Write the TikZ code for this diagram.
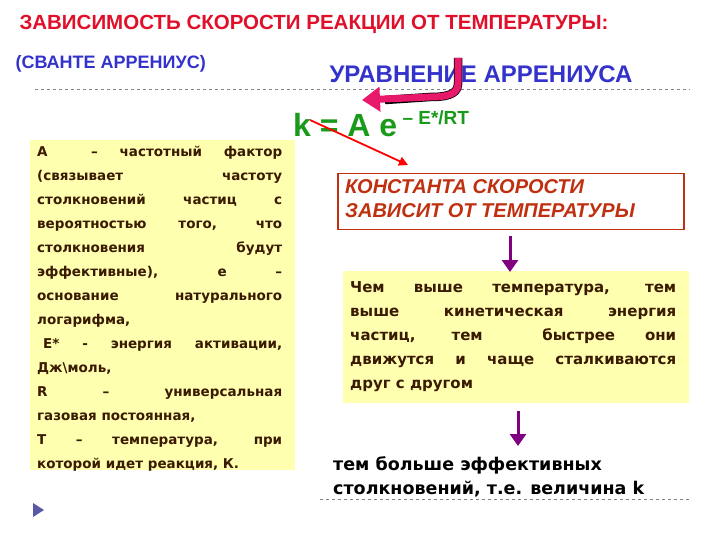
\documentclass[tikz,border=0pt]{standalone}
\usepackage{fontspec}
\setmainfont{DejaVu Sans}
\newfontfamily\arial{Liberation Sans}
\usetikzlibrary{arrows.meta}
\definecolor{ttlred}{HTML}{E0102A}
\definecolor{ttlblue}{HTML}{3333CC}
\definecolor{eqgreen}{HTML}{1A9A1A}
\definecolor{boxyel}{HTML}{FFFFB0}
\definecolor{txtbr}{HTML}{3A1A00}
\definecolor{konst}{HTML}{C03010}
\definecolor{pinkarr}{HTML}{E8186A}
\definecolor{purp}{HTML}{800080}
\tikzset{
  yelbox/.style={fill=boxyel, draw=none},
  bodytxt/.style={font=\bfseries\fontsize{13.5}{24}\selectfont, text=txtbr, align=justify, inner sep=0pt, anchor=north west},
  purparrow/.style={purp, line width=3pt, -{Triangle[length=12pt,width=16pt]}},
  sep/.style={gray, dashed, line width=0.6pt}
}
\begin{document}
\begin{tikzpicture}[x=1pt,y=-1pt]
\useasboundingbox (0,0) rectangle (720,540);
\node[anchor=west, font=\arial\bfseries\fontsize{20.5}{22}\selectfont, text=ttlred] (title) at (16,24) {ЗАВИСИМОСТЬ СКОРОСТИ РЕАКЦИИ ОТ ТЕМПЕРАТУРЫ:};
\node[anchor=west, font=\arial\bfseries\fontsize{18}{20}\selectfont, text=ttlblue] (sub) at (12,64) {(СВАНТЕ АРРЕНИУС)};
\node[anchor=west, font=\arial\bfseries\fontsize{24}{26}\selectfont, text=ttlblue] (ur) at (326,74) {УРАВНЕНИЕ АРРЕНИУСА};
\coordinate (d1a) at (35,89); \coordinate (d1b) at (690,89);
\draw[sep] (d1a) -- (d1b);
\node[anchor=west, font=\arial\bfseries\fontsize{32}{34}\selectfont, text=eqgreen, inner sep=0pt] (eq) at (293,124) {k = A e\raisebox{12pt}{\fontsize{19}{20}\selectfont\ – E*/RT}};
\coordinate (pa) at (458,58); \coordinate (pt) at (362,100);
\draw[black, line width=8.5pt] (pa) -- (458,84) to[out=-90,in=0] (430,97) -- (385,100);
\draw[pinkarr, line width=7pt, -{Triangle[length=18pt,width=24pt]}] (pa) -- (458,84) to[out=-90,in=0] (430,97) -- (pt);
% left box
\node[yelbox, minimum width=265, minimum height=330, anchor=north west] (lbox) at (30,140) {};
\node[bodytxt, text width=245] (ltxt) at (37,146) {А~~– частотный фактор\linebreak (связывает частоту\linebreak столкновений частиц с\linebreak вероятностью того, что\linebreak столкновения будут\linebreak эффективные), е –\linebreak основание натурального\linebreak логарифма,\\\hspace*{6pt}Е* - энергия активации,\linebreak Дж\textbackslash моль,\\R – универсальная\linebreak газовая постоянная,\\Т – температура, при\linebreak которой идет реакция, К.};
% red box
\node[draw=konst, line width=1.5pt, minimum width=346, minimum height=56, anchor=north west, fill=white] (rbox) at (337,173) {};
\node[anchor=north west, align=left, font=\arial\bfseries\itshape\fontsize{20}{24}\selectfont, text=konst, inner sep=0pt] (rtxt) at (345,179) {КОНСТАНТА СКОРОСТИ\\ЗАВИСИТ ОТ ТЕМПЕРАТУРЫ};
\coordinate (kk) at (310,120);
\draw[red, line width=1.8pt, -{Triangle[length=9pt,width=9pt]}] (kk) -- (408,165);
% right box
\node[yelbox, minimum width=346, minimum height=132, anchor=north west] (ybox) at (343,271) {};
\node[bodytxt, font=\bfseries\fontsize{15}{24}\selectfont, text width=326] (ytxt) at (350,281) {Чем выше температура, тем\linebreak выше кинетическая энергия\linebreak частиц, тем~ быстрее они\linebreak движутся и чаще сталкиваются\linebreak друг с другом};
\draw[purparrow] (510,236) -- (510,272);
\draw[purparrow] (518,411) -- (518,446);
\node[anchor=north west, align=left, font=\bfseries\fontsize{17.5}{24}\selectfont, text=black, inner sep=0pt] (btxt) at (333,456) {тем больше эффективных\\столкновений, т.е. величина k};
\coordinate (d2a) at (320,499); \coordinate (d2b) at (690,499);
\draw[sep] (d2a) -- (d2b);
\fill[gray!70!blue] (33,503) -- (44,510) -- (33,517) -- cycle;
\end{tikzpicture}
\end{document}
